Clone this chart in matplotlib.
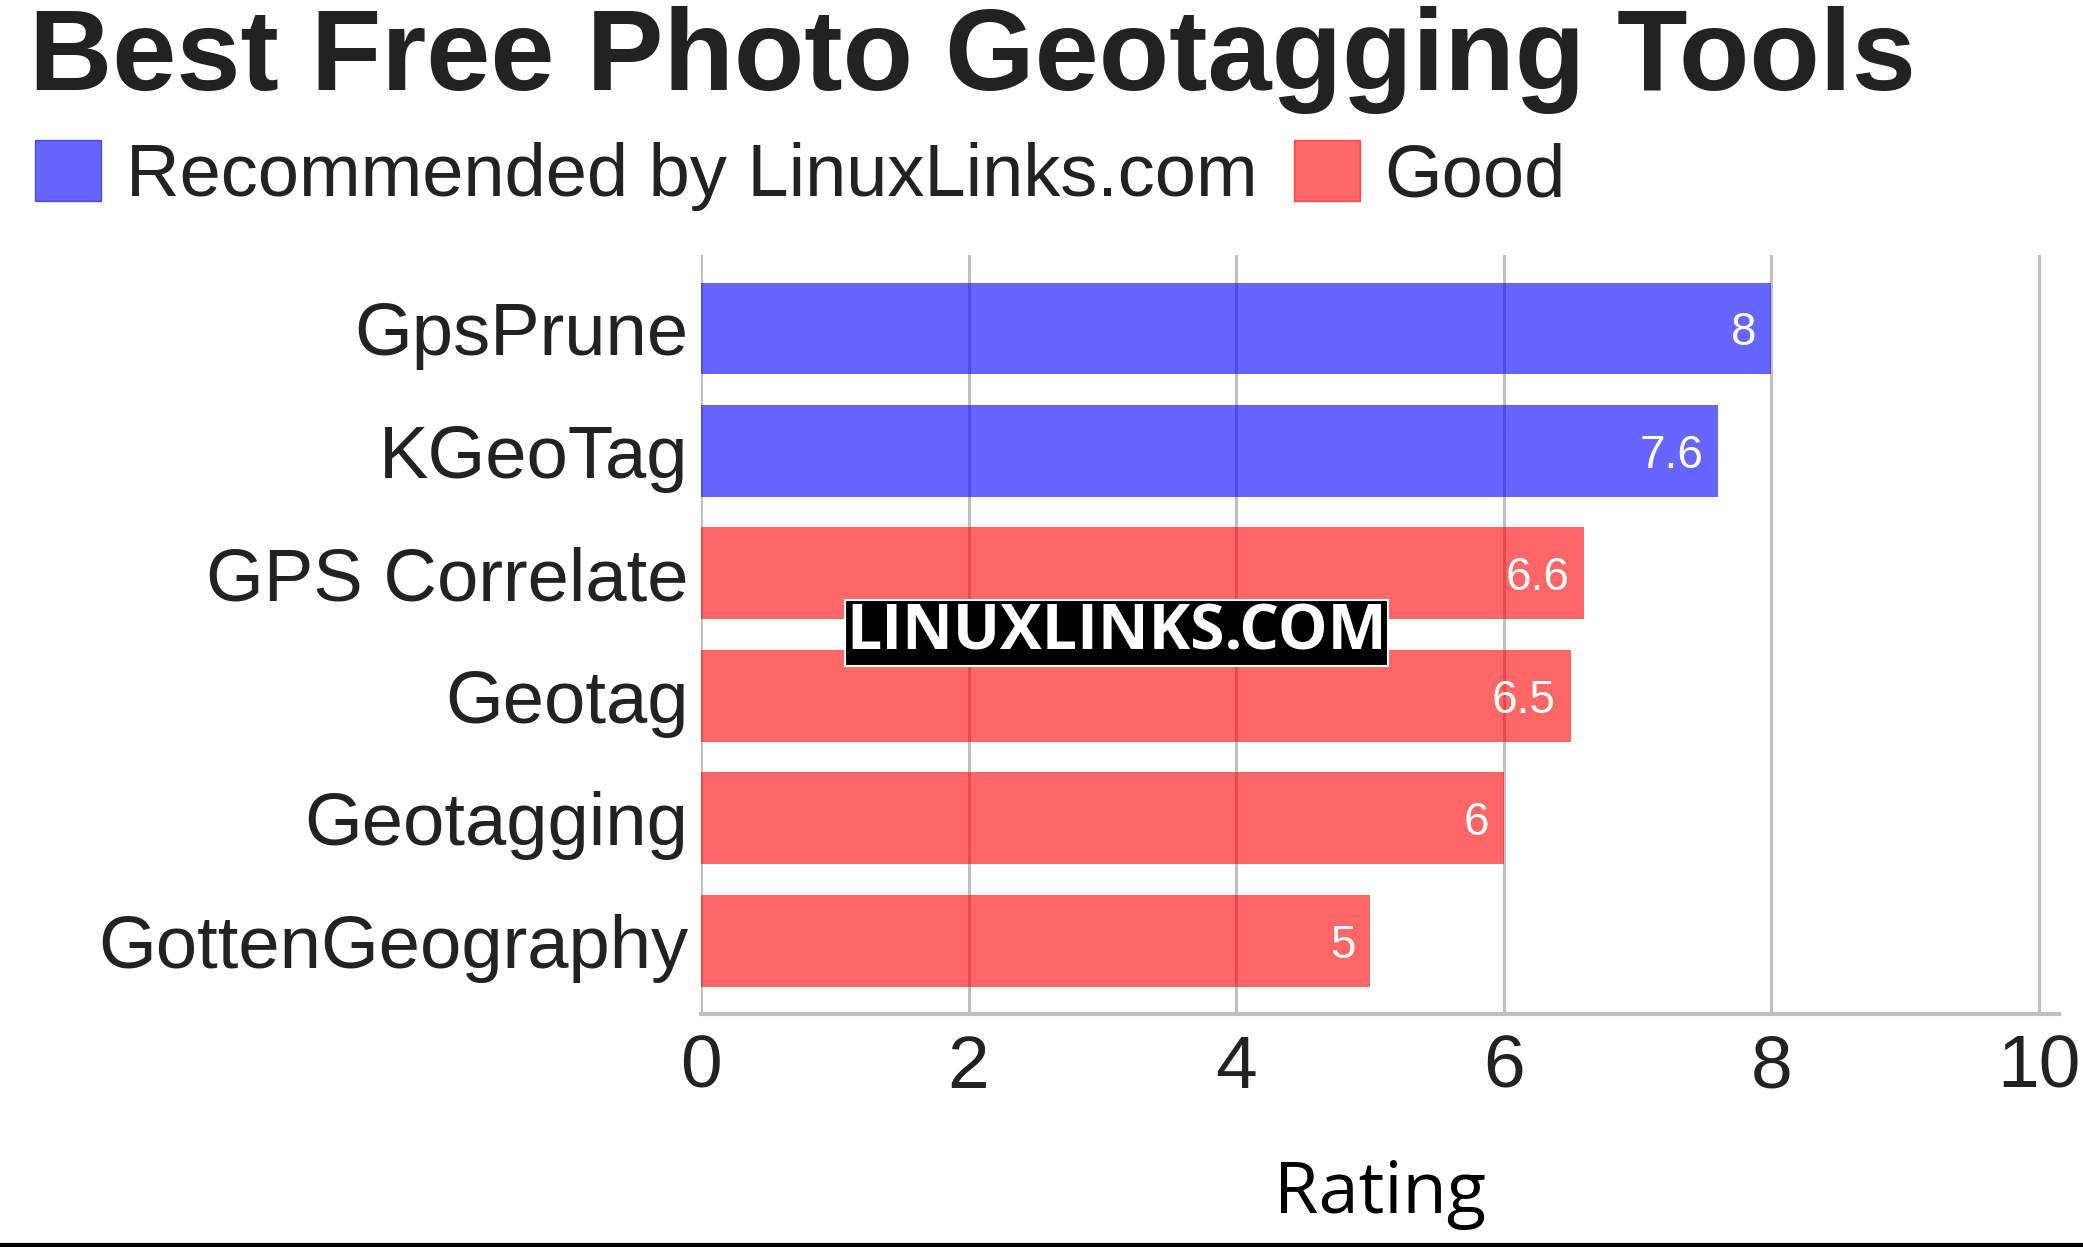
import matplotlib
matplotlib.use("Agg")
import matplotlib.pyplot as plt
from matplotlib.patches import Patch

# chart data
tools = ["GpsPrune", "KGeoTag", "GPS Correlate", "Geotag", "Geotagging", "GottenGeography"]
ratings = [8, 7.6, 6.6, 6.5, 6, 5]
groups = ["Recommended by LinuxLinks.com", "Recommended by LinuxLinks.com",
          "Good", "Good", "Good", "Good"]
group_colors = {"Recommended by LinuxLinks.com": "#0000ff", "Good": "#ff0000"}
x_ticks = [0, 2, 4, 6, 8, 10]

TEXT = "#222222"
GRID = "#c0c0c0"

fig = plt.figure(figsize=(20.83, 12.47), dpi=100)
ax = fig.add_axes([0.3365, 0.1868, 0.652, 0.6087])

pos = list(range(len(tools)))
for i, (name, val, grp) in enumerate(zip(tools, ratings, groups)):
    ax.barh(i, val, height=0.75, color=group_colors[grp], alpha=0.6, zorder=2)
    ax.text(val - 0.11, i + 0.04, f"{val:g}", ha="right", va="center", color="white",
            fontsize=33, family="Liberation Sans", zorder=3)

ax.set_ylim(len(tools) - 0.4, -0.6)
ax.set_xlim(0, 10.15)
ax.set_xticks(x_ticks)
ax.set_xticklabels([str(t) for t in x_ticks])
ax.set_yticks(pos)
ax.set_yticklabels(tools)
ax.tick_params(axis="both", length=0, labelcolor=TEXT)
ax.tick_params(axis="x", pad=14, labelsize=54)
ax.tick_params(axis="y", pad=9, labelsize=53.5)
for lab in ax.get_xticklabels() + ax.get_yticklabels():
    lab.set_family("Liberation Sans")

ax.grid(axis="x", color=GRID, linewidth=2.2, zorder=1)
ax.set_axisbelow(True)
for s in ["top", "right", "left"]:
    ax.spines[s].set_visible(False)
ax.spines["bottom"].set_color(GRID)
ax.spines["bottom"].set_linewidth(3)

ax.set_xlabel("Rating", fontsize=52, family="Open Sans", color="black", labelpad=40)

# title and legend
fig.text(0.014, 1 - 90 / 1247, "Best Free Photo Geotagging Tools", fontsize=83,
         fontweight="bold", family="Liberation Sans", color=TEXT, va="baseline")

handles = [Patch(color=group_colors[g], alpha=0.6, label=g)
           for g in ["Recommended by LinuxLinks.com", "Good"]]
leg = fig.legend(handles=handles, loc="upper left", bbox_to_anchor=(0.017, 1 - 140 / 1247),
                 ncol=2, frameon=False, prop={"family": "Liberation Sans", "size": 53.3},
                 handlelength=0.88, handleheight=0.9, handletextpad=0.34,
                 columnspacing=0.5, borderpad=0, borderaxespad=0)
for t in leg.get_texts():
    t.set_color(TEXT)

# watermark
fig.text(0.536, 1 - 633 / 1247, "LINUXLINKS.COM", fontsize=45, fontweight="bold",
         family="Open Sans", color="white", ha="center", va="center",
         bbox=dict(boxstyle="square,pad=0.02", facecolor="black", edgecolor="white",
                   linewidth=1.5))

# bottom rule
fig.add_artist(plt.Line2D([0, 1], [0.0015, 0.0015], color="black", linewidth=3))

fig.savefig("out.png", dpi=100)
